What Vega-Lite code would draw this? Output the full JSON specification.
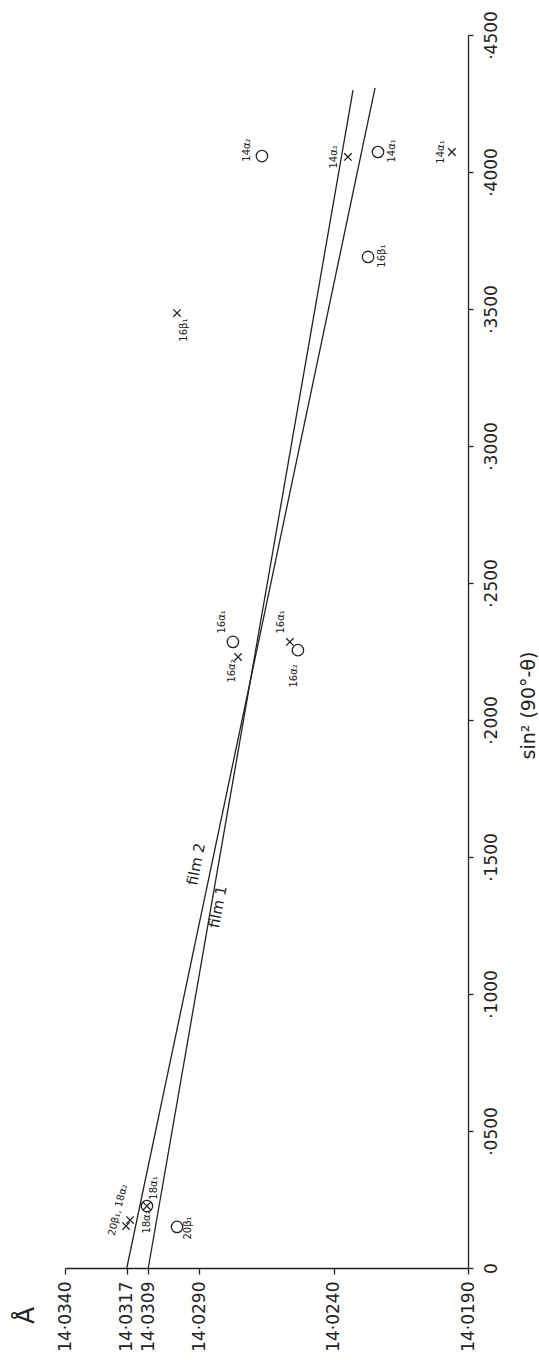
{
  "$schema": "https://vega.github.io/schema/vega-lite/v6.json",
  "width": 403,
  "height": 1233,
  "autosize": {"type": "none"},
  "padding": {"left": 65, "top": 35, "right": 71, "bottom": 92},
  "background": "white",
  "config": {
    "view": {"stroke": null},
    "font": "DejaVu Sans",
    "axis": {
      "grid": false,
      "domainColor": "#222",
      "tickColor": "#222",
      "labelColor": "#222",
      "titleColor": "#222",
      "labelFont": "DejaVu Sans",
      "titleFont": "DejaVu Sans",
      "titleFontWeight": "normal",
      "domainWidth": 1.3,
      "tickWidth": 1.3
    }
  },
  "datasets": {
    "points": [
      {"film": "1", "refl": "20β₁", "A": 14.02983, "s": 0.0150},
      {"film": "1", "refl": "18α₂", "A": 14.03095, "s": 0.0226},
      {"film": "1", "refl": "16α₁", "A": 14.02775, "s": 0.2285},
      {"film": "1", "refl": "16α₂", "A": 14.02533, "s": 0.2255},
      {"film": "1", "refl": "16β₁", "A": 14.02272, "s": 0.3690},
      {"film": "1", "refl": "14α₂", "A": 14.02667, "s": 0.4058},
      {"film": "1", "refl": "14α₁", "A": 14.02235, "s": 0.4073},
      {"film": "2", "refl": "20β₁", "A": 14.03173, "s": 0.0153},
      {"film": "2", "refl": "18α₂", "A": 14.03158, "s": 0.0175},
      {"film": "2", "refl": "18α₁", "A": 14.03095, "s": 0.0226},
      {"film": "2", "refl": "16α₂", "A": 14.02756, "s": 0.2230},
      {"film": "2", "refl": "16α₁", "A": 14.02563, "s": 0.2285},
      {"film": "2", "refl": "16β₁", "A": 14.02983, "s": 0.3485},
      {"film": "2", "refl": "14α₂", "A": 14.02347, "s": 0.4055},
      {"film": "2", "refl": "14α₁", "A": 14.01960, "s": 0.4073}
    ],
    "lines": [
      {"film": "film 2", "A": 14.0317, "s": 0},
      {"film": "film 2", "A": 14.02246, "s": 0.4307},
      {"film": "film 1", "A": 14.0309, "s": 0},
      {"film": "film 1", "A": 14.02328, "s": 0.4299}
    ],
    "labels": [
      {"t": "18α₂", "A": 14.03095, "s": 0.0168},
      {"t": "18α₁", "A": 14.03069, "s": 0.0292},
      {"t": "20β₁", "A": 14.02942, "s": 0.0146},
      {"t": "16α₁", "A": 14.02816, "s": 0.2358},
      {"t": "16α₂", "A": 14.02779, "s": 0.2179},
      {"t": "16α₁", "A": 14.02596, "s": 0.2358},
      {"t": "16α₂", "A": 14.02548, "s": 0.2161},
      {"t": "14α₂", "A": 14.02399, "s": 0.4055},
      {"t": "14α₁", "A": 14.02183, "s": 0.4077},
      {"t": "14α₁", "A": 14.02000, "s": 0.4073},
      {"t": "16β₁", "A": 14.02220, "s": 0.3693},
      {"t": "14α₂", "A": 14.02723, "s": 0.4080},
      {"t": "16β₁", "A": 14.02957, "s": 0.3423}
    ],
    "slanted": [
      {"t": "20β₁, 18α₂", "A": 14.03203, "s": 0.0212},
      {"t": "film 2", "A": 14.02912, "s": 0.1474},
      {"t": "film 1", "A": 14.02831, "s": 0.1318}
    ]
  },
  "encoding": {
    "x": {
      "field": "A",
      "type": "quantitative",
      "scale": {"domain": [14.019, 14.034], "reverse": true, "zero": false, "nice": false},
      "axis": {
        "orient": "bottom",
        "values": [14.019, 14.024, 14.029, 14.0309, 14.0317, 14.034],
        "labelExpr": "replace(format(datum.value, '.4f'), '.', '·')",
        "labelAngle": -90,
        "labelAlign": "right",
        "labelBaseline": "middle",
        "labelFontSize": 17,
        "labelPadding": 7,
        "tickSize": 6,
        "labelOverlap": false,
        "labelFlush": false,
        "title": "Å",
        "titleAngle": -90,
        "titleX": -40,
        "titleY": 47,
        "titleAlign": "center",
        "titleBaseline": "middle",
        "titleFontSize": 25
      }
    },
    "y": {
      "field": "s",
      "type": "quantitative",
      "scale": {"domain": [0, 0.45], "nice": false, "zero": false},
      "axis": {
        "orient": "right",
        "values": [0, 0.05, 0.1, 0.15, 0.2, 0.25, 0.3, 0.35, 0.4, 0.45],
        "labelExpr": "datum.value == 0 ? '0' : replace(format(datum.value, '.4f'), '0.', '·')",
        "labelAngle": -90,
        "labelAlign": "center",
        "labelBaseline": "top",
        "labelFontSize": 17,
        "labelPadding": 10,
        "tickSize": 5,
        "labelOverlap": false,
        "labelFlush": false,
        "title": "sin² (90°-θ)",
        "titleAngle": -90,
        "titleX": 60,
        "titleY": 670,
        "titleAlign": "center",
        "titleBaseline": "middle",
        "titleFontSize": 19
      }
    }
  },
  "layer": [
    {
      "data": {"name": "lines"},
      "mark": {"type": "line", "color": "#222", "strokeWidth": 1.3},
      "encoding": {"detail": {"field": "film"}}
    },
    {
      "data": {"name": "points"},
      "transform": [{"filter": "datum.film == '1'"}],
      "mark": {"type": "point", "shape": "circle", "filled": false, "color": "#222", "size": 130, "strokeWidth": 1.3, "opacity": 1}
    },
    {
      "data": {"name": "points"},
      "transform": [{"filter": "datum.film == '2'"}],
      "mark": {"type": "point", "shape": "M-1,-1L1,1M-1,1L1,-1", "filled": false, "color": "#222", "size": 55, "strokeWidth": 1.3, "opacity": 1}
    },
    {
      "data": {"name": "labels"},
      "mark": {"type": "text", "angle": -90, "fontSize": 10, "align": "center", "baseline": "middle", "color": "#222"},
      "encoding": {"text": {"field": "t"}}
    },
    {
      "data": {"name": "slanted"},
      "transform": [{"filter": "datum.t != '20β₁, 18α₂'"}],
      "mark": {"type": "text", "angle": -79, "fontSize": 15, "align": "center", "baseline": "middle", "color": "#222", "letterSpacing": 2},
      "encoding": {"text": {"field": "t"}}
    },
    {
      "data": {"name": "slanted"},
      "transform": [{"filter": "datum.t == '20β₁, 18α₂'"}],
      "mark": {"type": "text", "angle": -76, "fontSize": 10, "align": "center", "baseline": "middle", "color": "#222"},
      "encoding": {"text": {"field": "t"}}
    }
  ]
}
